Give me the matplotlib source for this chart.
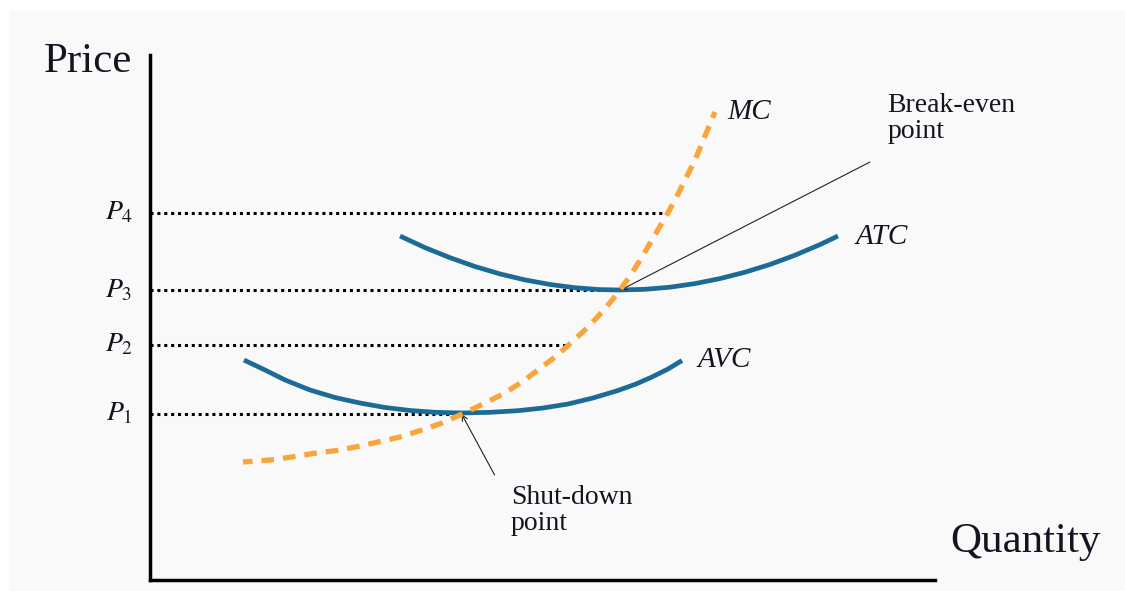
import matplotlib
matplotlib.use("Agg")
import matplotlib.pyplot as plt
from matplotlib.patches import Rectangle

plt.rcParams['font.family'] = ['Liberation Serif', 'DejaVu Serif']
plt.rcParams['mathtext.fontset'] = 'stix'

# price levels (axis runs 0..100 both ways)
price_labels = ['$P_1$', '$P_2$', '$P_3$', '$P_4$']
price_levels = [31.6, 44.8, 55.2, 69.9]
price_line_end = [39.7, 53.1, 59.9, 65.9]

# cost curves
mc_q = [11.85, 15.29, 18.09, 20.76, 23.82, 26.50, 29.04, 31.85, 34.65, 37.20,
        39.75, 42.42, 44.97, 47.39, 49.43, 51.59, 53.76, 55.80, 57.71, 59.49,
        61.15, 62.68, 64.08, 65.61, 66.88, 68.15, 69.43, 70.70, 71.97]
mc_p = [22.48, 22.86, 23.43, 24.10, 24.67, 25.43, 26.29, 27.24, 28.57, 29.90,
        31.62, 33.52, 35.43, 37.71, 40.00, 42.48, 45.33, 48.19, 51.24, 54.48,
        57.90, 61.52, 65.14, 68.95, 72.38, 76.19, 80.00, 84.57, 89.14]

avc_q = [11.97, 14.65, 17.20, 20.38, 23.57, 26.75, 29.94, 33.12, 36.31, 39.75,
         43.31, 46.88, 50.06, 53.25, 56.43, 59.62, 61.91, 63.95, 65.99, 67.77]
avc_p = [41.90, 40.00, 38.10, 36.19, 34.76, 33.71, 32.86, 32.29, 31.94, 31.81,
         31.94, 32.25, 32.76, 33.52, 34.67, 36.10, 37.33, 38.67, 40.19, 41.81]

atc_q = [31.85, 35.03, 38.22, 41.40, 44.59, 47.77, 50.96, 54.14, 57.32, 59.87,
         63.06, 66.24, 69.43, 72.61, 75.80, 78.98, 82.17, 85.35, 87.64]
atc_p = [65.52, 63.31, 61.39, 59.71, 58.30, 57.16, 56.29, 55.67, 55.31, 55.24,
         55.37, 55.77, 56.46, 57.41, 58.63, 60.10, 61.87, 63.89, 65.52]

blue = '#1b6b96'
orange = '#f9a53b'
ink = '#141420'

fig = plt.figure(figsize=(11.25, 5.91), dpi=100, facecolor='white')
fig.patches.append(Rectangle((9 / 1125, 0), 1, (591 - 11) / 591,
                             transform=fig.transFigure, facecolor='#f9f9f9',
                             edgecolor='none', zorder=-10))

ax = fig.add_axes([150 / 1125, 11 / 591, 785 / 1125, 525 / 591])
ax.set_facecolor('none')
ax.set_xlim(0, 100)
ax.set_ylim(0, 100)
for s in ['top', 'right']:
    ax.spines[s].set_visible(False)
for s in ['left', 'bottom']:
    ax.spines[s].set_linewidth(2.5)
    ax.spines[s].set_color('black')
ax.set_xticks([])
ax.set_yticks([])

# dotted price lines
for lab, lvl, end in zip(price_labels, price_levels, price_line_end):
    ax.plot([0, end], [lvl, lvl], color='black', lw=2.2,
            linestyle=(0, (1, 1.25)), zorder=2)
    ax.text(-2.2, lvl, lab, ha='right', va='center', fontsize=20,
            color=ink, clip_on=False)

ax.plot(avc_q, avc_p, color=blue, lw=3.4, solid_capstyle='butt',
        solid_joinstyle='round', zorder=3)
ax.plot(atc_q, atc_p, color=blue, lw=3.4, solid_capstyle='butt',
        solid_joinstyle='round', zorder=3)
ax.plot(mc_q, mc_p, color=orange, lw=3.8, linestyle=(0.6, (2.4, 1.7)),
        dash_capstyle='butt', zorder=4)

ax.text(73.6, 89.1, 'MC', style='italic', fontsize=21, color=ink,
        va='center', ha='left')
ax.text(89.9, 65.3, 'ATC', style='italic', fontsize=21, color=ink,
        va='center', ha='left')
ax.text(69.8, 41.9, 'AVC', style='italic', fontsize=21, color=ink,
        va='center', ha='left')

# annotations
ax.text(93.9, 92.7, 'Break-even\npoint', fontsize=20, color=ink,
        va='top', ha='left', linespacing=1.05, clip_on=False)
ax.annotate('', xy=(59.9, 55.2), xytext=(91.7, 79.6),
            arrowprops=dict(arrowstyle='->', lw=0.8, color='#222222',
                            shrinkA=0, shrinkB=0))
ax.text(46.0, 18.0, 'Shut-down\npoint', fontsize=20, color=ink,
        va='top', ha='left', linespacing=1.0)
ax.annotate('', xy=(39.7, 31.6), xytext=(43.9, 20.0),
            arrowprops=dict(arrowstyle='->', lw=0.8, color='#222222',
                            shrinkA=0, shrinkB=0))

# axis titles
ax.text(-13.5, 96.8, 'Price', fontsize=31, color=ink, ha='left',
        va='baseline', clip_on=False)
ax.text(101.9, 5.3, 'Quantity', fontsize=31, color=ink, ha='left',
        va='baseline', clip_on=False)

fig.savefig('out.png', dpi=100, facecolor=fig.get_facecolor())
